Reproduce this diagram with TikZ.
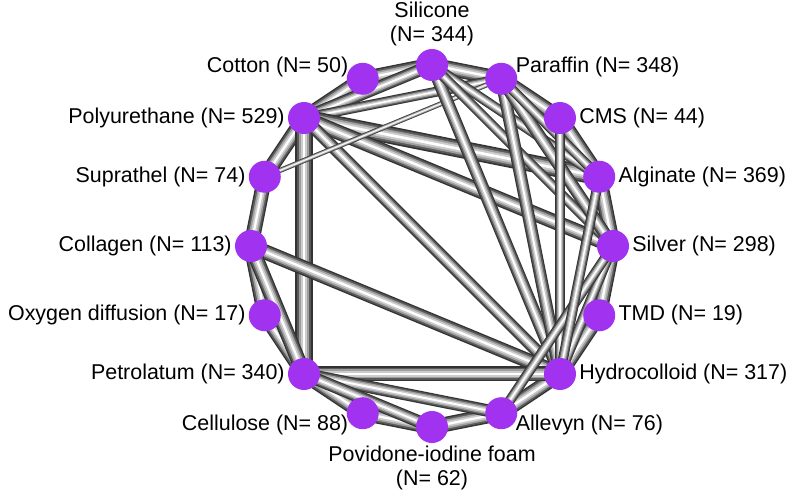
\documentclass[tikz,border=0pt]{standalone}
\usepackage{fontspec}
\setmainfont{Liberation Sans}
\definecolor{nodepurple}{RGB}{160,50,240}
\begin{document}
\begin{tikzpicture}[font=\fontsize{12.2}{13.5}\selectfont,
  dot/.style={circle,fill=nodepurple,draw=none,minimum size=0.64cm,inner sep=0pt},
  lab/.style={inner sep=1.5pt,align=center}]
  \useasboundingbox (-8.64,-5.12) rectangle (7.36,4.92);
  % nodes around the circle
  \foreach \i/\nm in {0/sil,1/par,2/cms,3/alg,4/slv,5/tmd,6/hyd,7/all,
                      8/pov,9/cel,10/pet,11/oxy,12/col,13/sup,14/pur,15/cot}
    \coordinate (\nm) at ({90-22.5*\i}:3.62);
  % tubes
  \newcommand\tube[3]{%
    \draw[line width=#3mm,black!80] (#1) -- (#2);
    \draw[line width=0.82*#3mm,gray!70!black] (#1) -- (#2);
    \draw[line width=0.6*#3mm,gray!75] (#1) -- (#2);
    \draw[line width=0.38*#3mm,gray!40] (#1) -- (#2);
    \draw[line width=0.15*#3mm,white] (#1) -- (#2);}
  \foreach \a/\b/\w in {cot/sil/3,sil/par/3,par/cms/3,cms/alg/3,alg/slv/3,slv/tmd/3,
      tmd/hyd/3,hyd/all/3,all/pov/3,pov/cel/3,cel/pet/3,pet/oxy/3,oxy/col/3,
      col/sup/3,sup/pur/3,pur/cot/3,
      pur/pet/3.5,pur/sil/2.5,pur/par/2,pur/alg/3.5,pur/slv/3,pur/hyd/2.5,
      sup/par/1,col/hyd/3,col/pet/3,pet/hyd/3,pet/all/2.5,pet/pov/2.5,
      sil/alg/2,sil/hyd/2.5,sil/slv/2,par/hyd/2.5,par/slv/2.5,par/alg/2,
      cms/hyd/2,slv/hyd/2,slv/all/2,alg/hyd/2}
    \tube{\a}{\b}{\w};
  \foreach \nm in {sil,par,cms,alg,slv,tmd,hyd,all,pov,cel,pet,oxy,col,sup,pur,cot}
    \node[dot] (d\nm) at (\nm) {};
  % labels
  \node[lab,above=0pt] (lsil) at (dsil.north) {Silicone\\(N= 344)};
  \node[lab,anchor=west] (lpar) at (dpar.north east) {Paraffin (N= 348)};
  \node[lab,anchor=west] (lcms) at (dcms.east) {CMS (N= 44)};
  \node[lab,anchor=west] (lalg) at (dalg.east) {Alginate (N= 369)};
  \node[lab,anchor=west] (lslv) at (dslv.east) {Silver (N= 298)};
  \node[lab,anchor=west] (ltmd) at (dtmd.east) {TMD (N= 19)};
  \node[lab,anchor=west] (lhyd) at (dhyd.east) {Hydrocolloid (N= 317)};
  \node[lab,anchor=west] (lall) at (dall.south east) {Allevyn (N= 76)};
  \node[lab,below=0pt] (lpov) at (dpov.south) {Povidone-iodine foam\\(N= 62)};
  \node[lab,anchor=east] (lcel) at (dcel.south west) {Cellulose (N= 88)};
  \node[lab,anchor=east] (lpet) at (dpet.west) {Petrolatum (N= 340)};
  \node[lab,anchor=east] (loxy) at (doxy.west) {Oxygen diffusion (N= 17)};
  \node[lab,anchor=east] (lcol) at (dcol.west) {Collagen (N= 113)};
  \node[lab,anchor=east] (lsup) at (dsup.west) {Suprathel (N= 74)};
  \node[lab,anchor=east] (lpur) at (dpur.west) {Polyurethane (N= 529)};
  \node[lab,anchor=east] (lcot) at (dcot.north west) {Cotton (N= 50)};
\end{tikzpicture}
\end{document}
